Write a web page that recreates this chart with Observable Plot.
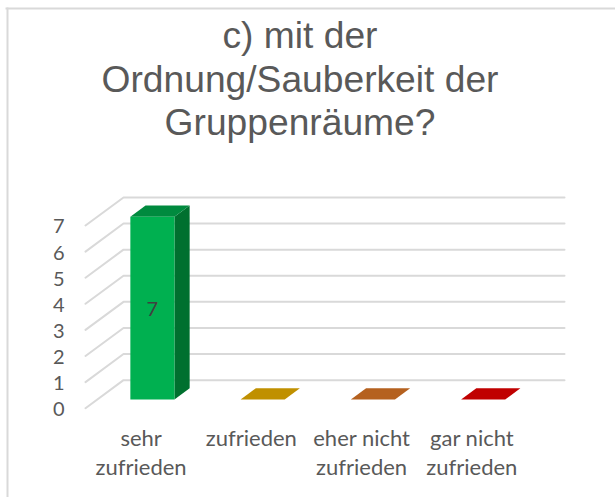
<!DOCTYPE html>
<html><head><meta charset="utf-8">
<script src="https://cdn.jsdelivr.net/npm/d3@7"></script>
<script src="https://cdn.jsdelivr.net/npm/@observablehq/plot@0.6"></script>
<style>html,body{margin:0;padding:0;background:#fff}svg{display:block}</style>
</head><body>
<script>
const categories = ["sehr\nzufrieden", "zufrieden", "eher nicht\nzufrieden", "gar nicht\nzufrieden"];
const values = [7, 0, 0, 0];
const yTicks = [0, 1, 2, 3, 4, 5, 6, 7];
const titleText = "c) mit der\nOrdnung/Sauberkeit der\nGruppenräume?";

const frontColors = ["#00b050", "#c09000", "#b5611f", "#c00000"];
const topColors   = ["#008a3e", "#c09000", "#b5611f", "#c00000"];
const sideColors  = ["#00702f", "#c09000", "#b5611f", "#c00000"];

// oblique projection: depth 0 = front wall, depth 1 = back wall
const depthX = 38 / 110.25, depthY = 28 / 26.07;
const P = (x, v, d) => ({x: x + d * depthX, y: v + d * depthY});
const xCat = categories.map((c, i) => i + 0.5);
const halfBar = 0.2, d0 = 0.31, d1 = 0.71;

const grid = yTicks.flatMap(t => [
  {...P(0, t, 0), t}, {...P(0, t, 1), t}, {...P(4, t, 1), t}
]);
const faces = values.flatMap((v, i) => {
  const l = xCat[i] - halfBar, r = xCat[i] + halfBar;
  const face = (name, color, pts) => pts.map(p => ({...p, id: name + i, color}));
  return [
    ...face("side", sideColors[i], [P(r, 0, d0), P(r, 0, d1), P(r, v, d1), P(r, v, d0)]),
    ...face("top", topColors[i], [P(l, v, d0), P(r, v, d0), P(r, v, d1), P(l, v, d1)]),
    ...face("front", frontColors[i], [P(l, 0, d0), P(r, 0, d0), P(r, v, d0), P(l, v, d0)])
  ];
});
const dataLabels = values.map((v, i) => ({...P(xCat[i], v / 2, d0), v})).filter(d => d.v > 0);

const chart = Plot.plot({
  width: 615, height: 497,
  marginLeft: 85, marginRight: 89, marginTop: 225, marginBottom: 89.3,
  style: {background: "#fff", overflow: "visible"},
  x: {domain: [0, 4], axis: null},
  y: {domain: [0, 7], axis: null},
  marks: [
    Plot.frame({anchor: "left", stroke: "#d9d9d9", strokeWidth: 2, insetLeft: -78, insetTop: -217, insetBottom: -90}),
    Plot.frame({anchor: "top", stroke: "#d9d9d9", strokeWidth: 2, insetLeft: -79, insetTop: -217, insetRight: -89}),
    Plot.line(grid, {x: "x", y: "y", z: "t", stroke: "#d9d9d9", strokeWidth: 2, curve: "linear"}),
    Plot.line(faces, {x: "x", y: "y", z: "id", fill: d => d.color, stroke: "none", curve: "linear"}),
    Plot.axisY({ticks: yTicks, tickFormat: d => String(d), tickSize: 0, tickPadding: 21, fontSize: 20, fontFamily: "Lato", color: "#595959", label: null, dy: 1.5}),
    Plot.axisX({ticks: xCat, tickFormat: x => categories[x - 0.5], tickSize: 0, tickPadding: 17, fontSize: 22, fontFamily: "Lato", color: "#595959", label: null, lineHeight: 1.32, dx: 0.5}),
    Plot.text(dataLabels, {x: "x", y: "y", text: "v", fontSize: 20, fontFamily: "Lato", fill: "#404040", dy: 1}),
    Plot.text([titleText], {frameAnchor: "top", text: d => d, dx: -6, dy: -208, lineAnchor: "top", lineHeight: 1.165, fontSize: 37.2, fontFamily: "Liberation Sans", fill: "#595959"})
  ]
});
document.body.appendChild(chart);
</script>
</body></html>
